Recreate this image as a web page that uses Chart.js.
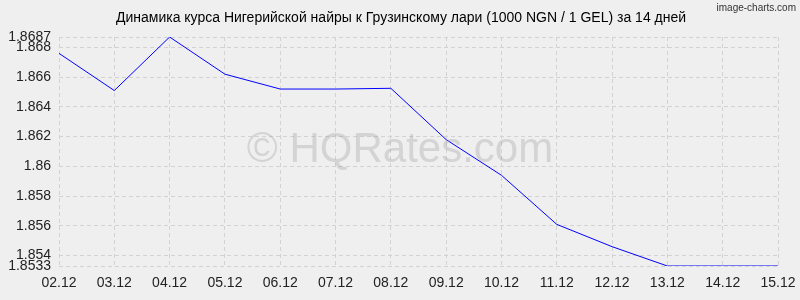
<!DOCTYPE html>
<html>
<head>
<meta charset="utf-8">
<script src="https://cdn.jsdelivr.net/npm/chart.js@4"></script>
<style>
  html, body { margin: 0; padding: 0; background: #efefef; }
  #wrap { width: 800px; height: 300px; }
</style>
</head>
<body>
<div id="wrap"><canvas id="grafico" width="800" height="300"></canvas></div>
<script>
// Datos del gráfico
var dias = ['02.12', '03.12', '04.12', '05.12', '06.12', '07.12', '08.12', '09.12', '10.12', '11.12', '12.12', '13.12', '14.12', '15.12'];
var cursos = [1.8676, 1.8651, 1.8687, 1.8662, 1.8652, 1.8652, 1.86525, 1.8618, 1.8594, 1.8561, 1.8546, 1.8533, 1.8533, 1.8533];
var ticksY = [1.8533, 1.854, 1.856, 1.858, 1.86, 1.862, 1.864, 1.866, 1.868, 1.8687];
var titulo = 'Динамика курса Нигерийской найры к Грузинскому лари (1000 NGN / 1 GEL) за 14 дней';

var fuente = '"Liberation Sans", Arial, sans-serif';

// Título, marca de agua y pie
var extras = {
  id: 'extras',
  beforeDraw: function(chart) {
    var c = chart.ctx;
    c.save();
    c.fillStyle = '#efefef';
    c.fillRect(0, 0, chart.width, chart.height);
    c.restore();
  },
  afterDatasetsDraw: function(chart) {
    var c = chart.ctx;
    c.save();
    c.fillStyle = '#000';
    c.font = '14px ' + fuente;
    c.textAlign = 'center';
    c.textBaseline = 'middle';
    c.fillText(titulo, 401, 18);
    c.fillStyle = '#333';
    c.font = '10px ' + fuente;
    c.textAlign = 'right';
    c.fillText('image-charts.com', 796, 8);
    c.fillStyle = 'rgba(150,150,150,0.3)';
    c.font = '42px ' + fuente;
    c.textAlign = 'center';
    c.fillText('© HQRates.com', 400, 150);
    c.restore();
  }
};

var ctx = document.getElementById('grafico').getContext('2d');

var grafico = new Chart(ctx, {
  type: 'line',
  data: {
    labels: dias,
    datasets: [{
      data: cursos,
      borderColor: '#0000ff',
      borderWidth: 1,
      pointRadius: 0,
      tension: 0,
      fill: false
    }]
  },
  options: {
    responsive: false,
    animation: false,
    layout: { padding: { top: 37, right: 22, left: 0, bottom: 0 } },
    plugins: {
      legend: { display: false },
      tooltip: { enabled: false }
    },
    scales: {
      x: {
        offset: false,
        afterFit: function(scale) {
          scale.height = 34;
          scale.paddingLeft = 0;
          scale.paddingRight = 0;
        },
        grid: { color: '#d2d2d2', tickLength: 0, drawTicks: false },
        border: { display: false, dash: [4, 3] },
        ticks: {
          color: '#222',
          font: { family: fuente, size: 14 },
          padding: 9,
          maxRotation: 0,
          autoSkip: false
        }
      },
      y: {
        min: 1.8533,
        max: 1.8687,
        afterFit: function(scale) {
          scale.width = 59;
          scale.paddingTop = 0;
          scale.paddingBottom = 0;
        },
        afterBuildTicks: function(scale) {
          scale.ticks = ticksY.map(function(v) { return { value: v }; });
        },
        grid: { color: '#d2d2d2', drawTicks: false },
        border: { display: false, dash: [4, 3] },
        ticks: {
          color: '#222',
          font: { family: fuente, size: 14 },
          padding: 8,
          autoSkip: false,
          callback: function(v) { return String(v); }
        }
      }
    }
  },
  plugins: [extras]
});
</script>
</body>
</html>
